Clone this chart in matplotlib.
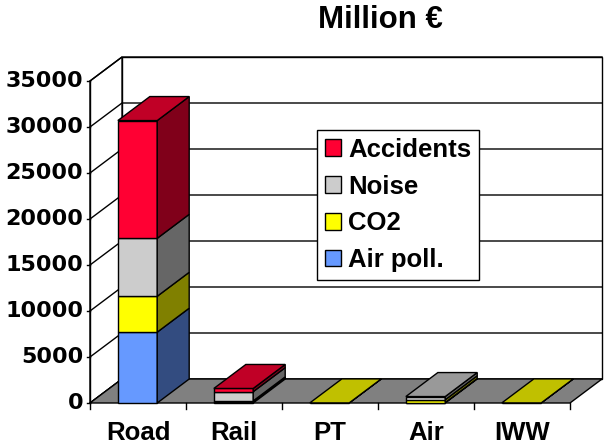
import matplotlib.pyplot as plt
from matplotlib.patches import Polygon, Patch

# data (million euro), stacked bottom -> top
modes = ['Road', 'Rail', 'PT', 'Air', 'IWW']
series = ['Air poll.', 'CO2', 'Noise', 'Accidents']
air_poll = [7700, 150, 0, 50, 0]
co2 = [3900, 80, 10, 300, 10]
noise = [6300, 1000, 0, 350, 0]
accidents = [12800, 350, 0, 0, 0]
y_ticks = [0, 5000, 10000, 15000, 20000, 25000, 30000, 35000]

front_colors = ['#6699ff', '#ffff00', '#cccccc', '#ff0033']
side_colors = ['#334c80', '#808000', '#666666', '#80001a']
top_colors = ['#4d73bf', '#c0c000', '#999999', '#c00026']

plt.rcParams['font.family'] = ['Liberation Sans', 'DejaVu Sans']
plt.rcParams['font.weight'] = 'bold'

# pseudo-3d geometry (data units)
PX_X = 96.0          # pixels per category
PX_Y = 322 / 35000   # pixels per value unit
DX, DY = 32 / PX_X, 24 / PX_Y
BAR_L, BAR_W = 0.29, 0.41
YMAX = 35000
LW = 1.0

fig = plt.figure(figsize=(6.05, 4.46), dpi=100)
ax = fig.add_axes([0, 0, 1, 1])
ax.set_xlim(-90 / PX_X, 515 / PX_X)
ax.set_ylim(-43 / PX_Y, 403 / PX_Y)
ax.axis('off')

n = len(modes)

# walls and floor
ax.add_patch(Polygon([(DX, DY), (n + DX, DY), (n + DX, YMAX + DY), (DX, YMAX + DY)],
                     fc='white', ec='black', lw=LW, zorder=0))
ax.add_patch(Polygon([(0, 0), (DX, DY), (DX, YMAX + DY), (0, YMAX)],
                     fc='white', ec='black', lw=LW, zorder=0))
for t in y_ticks:
    ax.plot([0, DX, n + DX], [t, t + DY, t + DY], color='black', lw=LW, zorder=0.5)
    ax.plot([-0.03, 0], [t, t], color='black', lw=LW, zorder=0.5)
    ax.text(-0.07, t, str(t), ha='right', va='center', fontsize=16,
            family='DejaVu Sans')
ax.add_patch(Polygon([(0, 0), (n, 0), (n + DX, DY), (DX, DY)],
                     fc='#808080', ec='black', lw=LW, zorder=1))
for i in range(n + 1):
    ax.plot([i, i], [0, -6 / PX_Y], color='black', lw=LW, zorder=1)
ax.plot([0, 0], [0, YMAX], color='black', lw=LW, zorder=1)

# bars
stack = [air_poll, co2, noise, accidents]
for i, mode in enumerate(modes):
    x0 = i + BAR_L
    x1 = x0 + BAR_W
    bottom = 0
    top_idx = None
    for k, vals in enumerate(stack):
        h = vals[i]
        if h <= 0:
            continue
        t = bottom + h
        ax.add_patch(Polygon([(x0, bottom), (x1, bottom), (x1, t), (x0, t)],
                             fc=front_colors[k], ec='black', lw=LW, zorder=3))
        ax.add_patch(Polygon([(x1, bottom), (x1 + DX, bottom + DY),
                              (x1 + DX, t + DY), (x1, t)],
                             fc=side_colors[k], ec='black', lw=LW, zorder=3))
        bottom = t
        top_idx = k
    if top_idx is not None:
        ax.add_patch(Polygon([(x0, bottom), (x1, bottom), (x1 + DX, bottom + DY),
                              (x0 + DX, bottom + DY)],
                             fc=top_colors[top_idx], ec='black', lw=LW, zorder=3))
    ax.text(i + 0.5, -30 / PX_Y, mode, ha='center', va='center', fontsize=18.5)

ax.text(290 / PX_X, 383 / PX_Y, 'Million €', ha='center', va='center', fontsize=22.5)

handles = [Patch(fc=front_colors[k], ec='black', lw=LW) for k in range(3, -1, -1)]
labels = [series[k] for k in range(3, -1, -1)]
leg = ax.legend(handles, labels, loc='upper left',
                bbox_to_anchor=(317 / 605, 1 - 130 / 446), bbox_transform=fig.transFigure,
                fontsize=18.5, frameon=True, fancybox=False, framealpha=1,
                edgecolor='black', handlelength=0.65, handleheight=0.6,
                handletextpad=0.27, labelspacing=0.5, borderpad=0.3,
                borderaxespad=0)
leg.get_frame().set_linewidth(LW)
leg.set_zorder(5)

fig.savefig('out.png', dpi=100)
